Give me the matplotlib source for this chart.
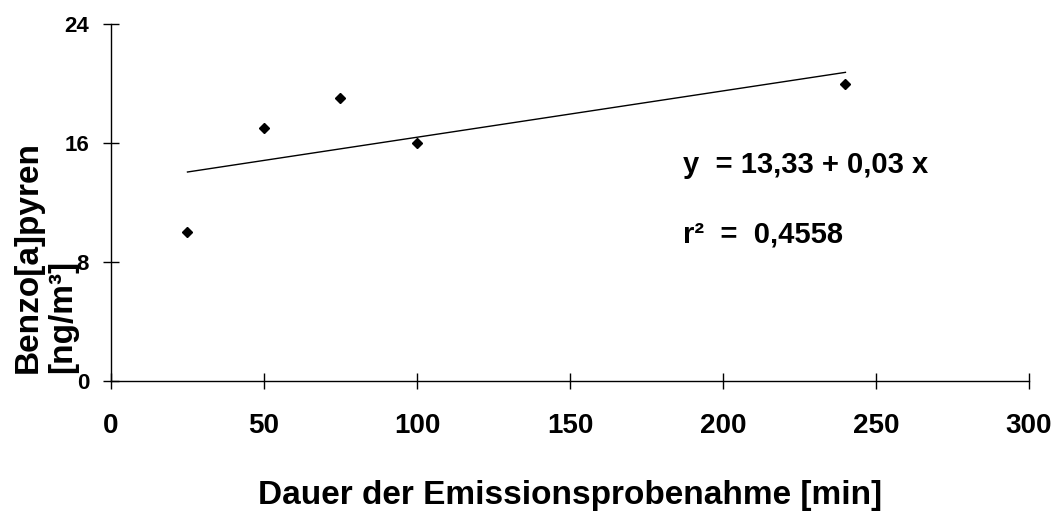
import matplotlib
matplotlib.use("Agg")
import matplotlib.pyplot as plt

# ── data ───────────────────────────────────────────────────────────────────────
dauer_min = [25, 50, 75, 100, 240]
bap_ng_m3 = [10.0, 17.0, 19.0, 16.0, 20.0]

# regression line y = 13,33 + 0,03 x, drawn over the measured range
trend_x = [25, 240]
trend_y = [14.05, 20.75]

x_ticks = [0, 50, 100, 150, 200, 250, 300]
y_ticks = [0, 8, 16, 24]

plt.rcParams["font.family"] = ["Liberation Sans", "DejaVu Sans"]
plt.rcParams["font.weight"] = "bold"

fig = plt.figure(figsize=(10.6, 5.12), dpi=100)
ax = fig.add_axes([0.1047, 0.2559, 0.8661, 0.6972])

ax.plot(dauer_min, bap_ng_m3, linestyle="none", marker="D", markersize=5,
        color="black", clip_on=False)
ax.plot(trend_x, trend_y, color="black", lw=1.0)

ax.set_xlim(0, 300)
ax.set_ylim(0, 24)
ax.set_xticks(x_ticks)
ax.set_yticks(y_ticks)

for side in ("top", "right"):
    ax.spines[side].set_visible(False)
for side in ("left", "bottom"):
    ax.spines[side].set_linewidth(1.0)

ax.tick_params(axis="both", direction="inout", length=11.5, width=1.0)
ax.tick_params(axis="y", pad=10, labelsize=16)
ax.tick_params(axis="x", pad=17, labelsize=20)

ax.set_xlabel("Dauer der Emissionsprobenahme [min]", fontsize=24,
              fontweight="bold", labelpad=30)

# y label: two lines, both starting at the same height (left-aligned when rotated)
fig.text(0.027, 0.271, "Benzo[a]pyren", rotation=90, fontsize=24,
         fontweight="bold", ha="center", va="bottom")
fig.text(0.059, 0.271, "[ng/m³]", rotation=90, fontsize=24,
         fontweight="bold", ha="center", va="bottom")

ax.text(0.623, 0.605, "y  = 13,33 + 0,03 x", transform=ax.transAxes,
        fontsize=21, fontweight="bold", va="center")
ax.text(0.623, 0.41, "r²  =  0,4558", transform=ax.transAxes,
        fontsize=21, fontweight="bold", va="center")

fig.savefig("out.png", dpi=100)
